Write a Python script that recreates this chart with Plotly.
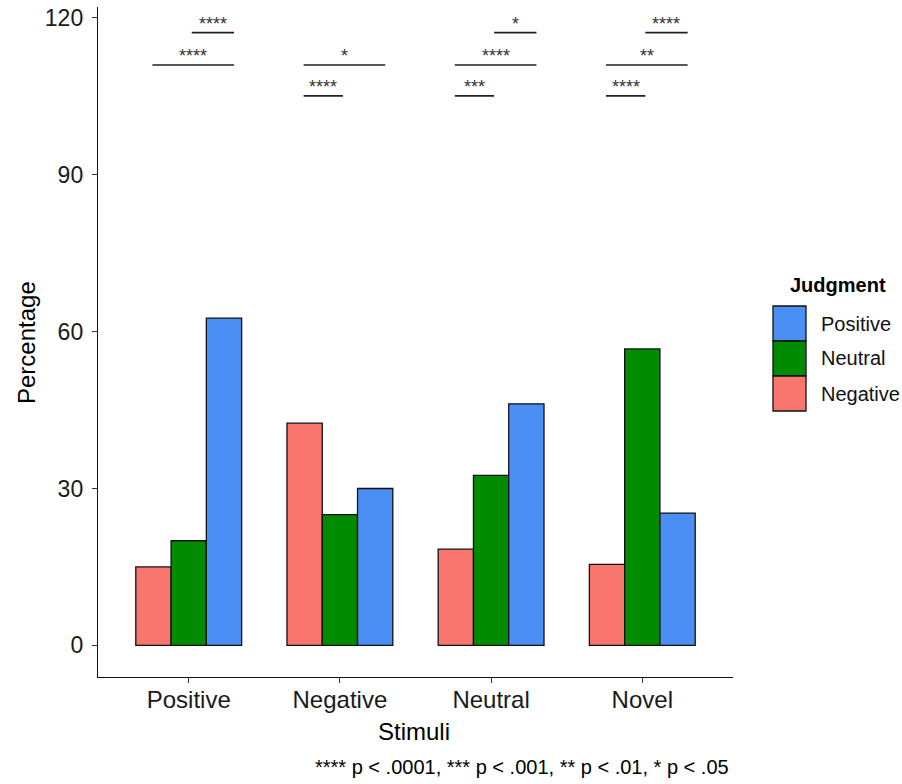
import plotly.graph_objects as go

# ---- data ----
stimuli = ["Positive", "Negative", "Neutral", "Novel"]
judgments = ["Negative", "Neutral", "Positive"]
pct_negative = [15.0, 42.5, 18.4, 15.5]
pct_neutral = [20.0, 25.0, 32.5, 56.7]
pct_positive = [62.6, 30.0, 46.2, 25.3]
y_ticks = [0, 30, 60, 90, 120]

# significance comparisons: (stimulus index, judgment a, judgment b, label, level)
comp_group = [0, 0, 1, 1, 2, 2, 2, 3, 3, 3]
comp_a = ["Neutral", "Negative", "Negative", "Negative", "Neutral", "Negative", "Negative", "Neutral", "Negative", "Negative"]
comp_b = ["Positive", "Positive", "Positive", "Neutral", "Positive", "Positive", "Neutral", "Positive", "Positive", "Neutral"]
comp_label = ["****", "****", "*", "****", "*", "****", "***", "****", "**", "****"]
comp_y = [117.2, 111.0, 111.0, 105.1, 117.2, 111.0, 105.1, 117.2, 111.0, 105.1]
caption = "**** p < .0001, *** p < .001, ** p < .01, * p < .05"

colors = {"Negative": "#F8766D", "Neutral": "#008B00", "Positive": "#4B8FF5"}
values = {"Negative": pct_negative, "Neutral": pct_neutral, "Positive": pct_positive}

FONT = "Liberation Sans, Arial, sans-serif"
W, H = 902, 784
L, R, T, B = 98, 169, 7, 107
PW, PH = W - L - R, H - T - B

def px(x):
    return (x - L) / PW

def py(y):
    return (H - B - y) / PH

fig = go.Figure()
for j in judgments:
    fig.add_trace(go.Bar(
        x=stimuli, y=values[j], name=j,
        marker=dict(color=colors[j], line=dict(color="#111111", width=1.3)),
        showlegend=False,
    ))

# bracket endpoints within group (slightly offset as in reference)
bracket_off = {"Negative": -0.24, "Neutral": 0.02, "Positive": 0.30}
shapes = []
annotations = []
for g, a, b, lab, yv in zip(comp_group, comp_a, comp_b, comp_label, comp_y):
    x0 = g + bracket_off[a]
    x1 = g + bracket_off[b]
    shapes.append(dict(type="line", xref="x", yref="y", x0=x0, x1=x1, y0=yv, y1=yv,
                       line=dict(color="#222222", width=1.6)))
    annotations.append(dict(x=(x0 + x1) / 2, y=yv, xref="x", yref="y", text=lab,
                            showarrow=False, yanchor="bottom", yshift=-3,
                            font=dict(family=FONT, size=18, color="#333333")))

# manual legend
annotations.append(dict(x=px(788), y=py(285), xref="paper", yref="paper", text="<b>Judgment</b>",
                        showarrow=False, xanchor="left", yanchor="middle",
                        font=dict(family=FONT, size=20, color="#000000")))
legend_order = ["Positive", "Neutral", "Negative"]
box_top = 306
box_h = 35
for i, j in enumerate(legend_order):
    y0 = box_top + i * box_h
    shapes.append(dict(type="rect", xref="paper", yref="paper",
                       x0=px(773), x1=px(806), y0=py(y0 + box_h), y1=py(y0),
                       fillcolor=colors[j], line=dict(color="#111111", width=1.3)))
    annotations.append(dict(x=px(819), y=py(y0 + box_h / 2), xref="paper", yref="paper",
                            text=j, showarrow=False, xanchor="left", yanchor="middle",
                            font=dict(family=FONT, size=20, color="#111111")))

# axis titles and caption
annotations.append(dict(x=px(414), y=py(731), xref="paper", yref="paper", text="Stimuli",
                        showarrow=False, xanchor="center", yanchor="middle",
                        font=dict(family=FONT, size=24, color="#000000")))
annotations.append(dict(x=px(26), y=py(343), xref="paper", yref="paper", text="Percentage",
                        showarrow=False, xanchor="center", yanchor="middle", textangle=-90,
                        font=dict(family=FONT, size=24, color="#000000")))
annotations.append(dict(x=px(731), y=py(767), xref="paper", yref="paper", text=caption,
                        showarrow=False, xanchor="right", yanchor="middle",
                        font=dict(family=FONT, size=20, color="#000000")))

fig.update_layout(
    width=W, height=H,
    margin=dict(l=L, r=R, t=T, b=B, autoexpand=False),
    plot_bgcolor="white", paper_bgcolor="white",
    barmode="group", bargap=0.3, bargroupgap=0,
    shapes=shapes, annotations=annotations,
    showlegend=False,
)
fig.update_xaxes(
    type="category", range=[-0.6, 3.6], showgrid=False, zeroline=False,
    showline=True, linecolor="#111111", linewidth=1.4,
    ticks="outside", ticklen=5, tickcolor="#333333", tickwidth=1.2,
    ticklabelstandoff=-4,
    tickfont=dict(family=FONT, size=24, color="#1a1a1a"),
)
fig.update_yaxes(
    range=[-6.06, 122.1], tickvals=y_ticks, showgrid=False, zeroline=False,
    showline=True, linecolor="#111111", linewidth=1.4,
    ticks="outside", ticklen=5, tickcolor="#333333", tickwidth=1.2,
    ticklabelstandoff=4,
    tickfont=dict(family=FONT, size=23, color="#1a1a1a"),
)

fig.write_html("out.html", config={"displayModeBar": False},
               post_script="document.body.style.margin='0';document.body.style.overflow='hidden';")
